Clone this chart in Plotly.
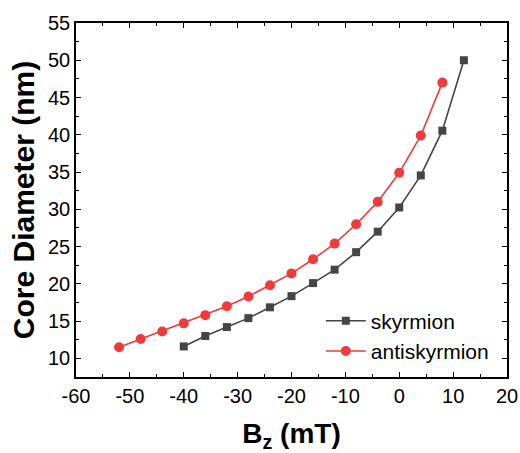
import plotly.graph_objects as go

# Data
bz_sky = [-40, -36, -32, -28, -24, -20, -16, -12, -8, -4, 0, 4, 8, 12]
d_sky = [11.6, 13.0, 14.2, 15.4, 16.85, 18.35, 20.1, 21.9, 24.25, 27.0, 30.25, 34.55, 40.55, 50.0]

bz_anti = [-52, -48, -44, -40, -36, -32, -28, -24, -20, -16, -12, -8, -4, 0, 4, 8]
d_anti = [11.5, 12.6, 13.6, 14.7, 15.8, 17.0, 18.3, 19.8, 21.4, 23.3, 25.4, 28.0, 31.0, 34.9, 39.9, 47.0]

x_ticks = [-60, -50, -40, -30, -20, -10, 0, 10, 20]
y_ticks = [10, 15, 20, 25, 30, 35, 40, 45, 50, 55]

FONT = "Liberation Sans, Arial, sans-serif"

fig = go.Figure()
fig.add_trace(go.Scatter(
    x=bz_sky, y=d_sky, name="skyrmion", mode="lines+markers",
    line=dict(color="#454545", width=1.6),
    marker=dict(symbol="square", size=8, color="#454545"),
))
fig.add_trace(go.Scatter(
    x=bz_anti, y=d_anti, name="antiskyrmion", mode="lines+markers",
    line=dict(color="#ef3b3b", width=1.6),
    marker=dict(symbol="circle", size=10, color="#ef3b3b"),
))

axis_common = dict(
    showline=True, linecolor="black", linewidth=1.6, mirror="ticks",
    ticks="inside", ticklen=5, tickwidth=1.3, tickcolor="black",
    showgrid=False, zeroline=False,
    tickfont=dict(family=FONT, size=20, color="black"),
)

fig.update_xaxes(
    range=[-60, 20], tickvals=x_ticks, ticktext=[str(v) for v in x_ticks],
    minor=dict(ticks="inside", dtick=5, tick0=0, ticklen=3, tickwidth=1.3, tickcolor="black"),
    title=dict(text="<b>B<sub>z</sub> (mT)</b>", font=dict(family=FONT, size=28, color="black"), standoff=19),
    **axis_common,
)
fig.update_yaxes(
    range=[7.5, 55], tickvals=y_ticks, ticktext=[str(v) for v in y_ticks],
    minor=dict(ticks="inside", dtick=2.5, tick0=0, ticklen=3, tickwidth=1.3, tickcolor="black"),
    title=dict(text="<b>Core Diameter (nm)</b>", font=dict(family=FONT, size=30, color="black"), standoff=4),
    **axis_common,
)

fig.update_layout(
    width=520, height=453,
    margin=dict(l=76, r=13, t=23, b=76, autoexpand=False),
    paper_bgcolor="white", plot_bgcolor="white",
    showlegend=True,
    legend=dict(
        x=0.568, y=0.216, xanchor="left", yanchor="top",
        font=dict(family=FONT, size=21, color="black"),
        bgcolor="rgba(0,0,0,0)", borderwidth=0,
        tracegroupgap=0, itemwidth=40,
    ),
    font=dict(family=FONT),
)

fig.write_html("out.html")
